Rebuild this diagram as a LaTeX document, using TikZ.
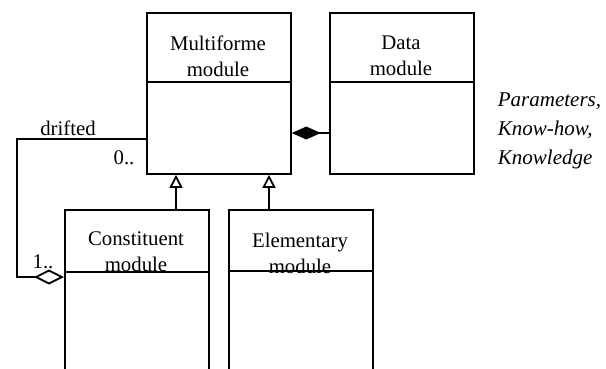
\documentclass[tikz,border=0pt]{standalone}
\usepackage{fontspec}
\setmainfont{Liberation Serif}
\usetikzlibrary{arrows.meta}
\begin{document}
\begin{tikzpicture}[x=1pt,y=-1pt,
  line width=1.8pt,
  umlbox/.style={draw, rectangle, minimum width=144pt, anchor=north west, inner sep=0pt},
  lbl/.style={inner sep=0pt, align=center, font=\fontsize{20.8pt}{26pt}\selectfont},
  note/.style={inner sep=0pt, align=left, anchor=west, font=\fontsize{21pt}{29pt}\selectfont\itshape},
  gen/.style={-{Triangle[open, length=13pt, width=13pt]}},
  compo/.style={{Diamond[length=29pt, width=13pt]}-},
  aggr/.style={-{Diamond[open, length=30pt, width=15pt]}}
]
\useasboundingbox (0,0) rectangle (606,368);
\clip (0,0) rectangle (606,368);

% class boxes
\node[umlbox, minimum height=161pt] (multi) at (146,12) {};
\node[umlbox, minimum height=161pt] (data) at (329,12) {};
\node[umlbox, minimum height=180pt] (const) at (64,209) {};
\node[umlbox, minimum height=180pt] (elem) at (228,209) {};

% class names
\node[lbl] (multiname) at (218,56) {Multiforme\\module};
\node[lbl] (dataname) at (401,56) {Data\\module};
\node[lbl] (constname) at (136,252) {Constituent\\module};
\node[lbl] (elemname) at (300,253) {Elementary\\module};

% compartment lines
\draw (multi.west |- 0,82) -- (multi.east |- 0,82);
\draw (data.west |- 0,82) -- (data.east |- 0,82);
\draw (const.west |- 0,272) -- (const.east |- 0,272);
\draw (elem.west |- 0,271) -- (elem.east |- 0,271);

% generalisations
\draw[gen] (const.north -| 176,0) -- (multi.south -| 176,0);
\draw[gen] (elem.north -| 269,0) -- (multi.south -| 269,0);

% composition with the data module
\draw[compo] (multi.east |- 0,133) -- (data.west |- 0,133);

% self aggregation
\coordinate (turnA) at (17,139);
\coordinate (turnB) at (17,277);
\draw[aggr] (multi.west |- turnA) -- (turnA) -- (turnB) -- (const.west |- turnB);
\node[lbl] (drifted) at (68,128) {drifted};
\node[lbl] (mult0) at (124,158) {0..};
\node[lbl] (mult1) at (43,262) {1..};

% data contents
\node[note] (contents) at (497,131) {Parameters,\\Know-how,\\Knowledge};
\end{tikzpicture}
\end{document}
